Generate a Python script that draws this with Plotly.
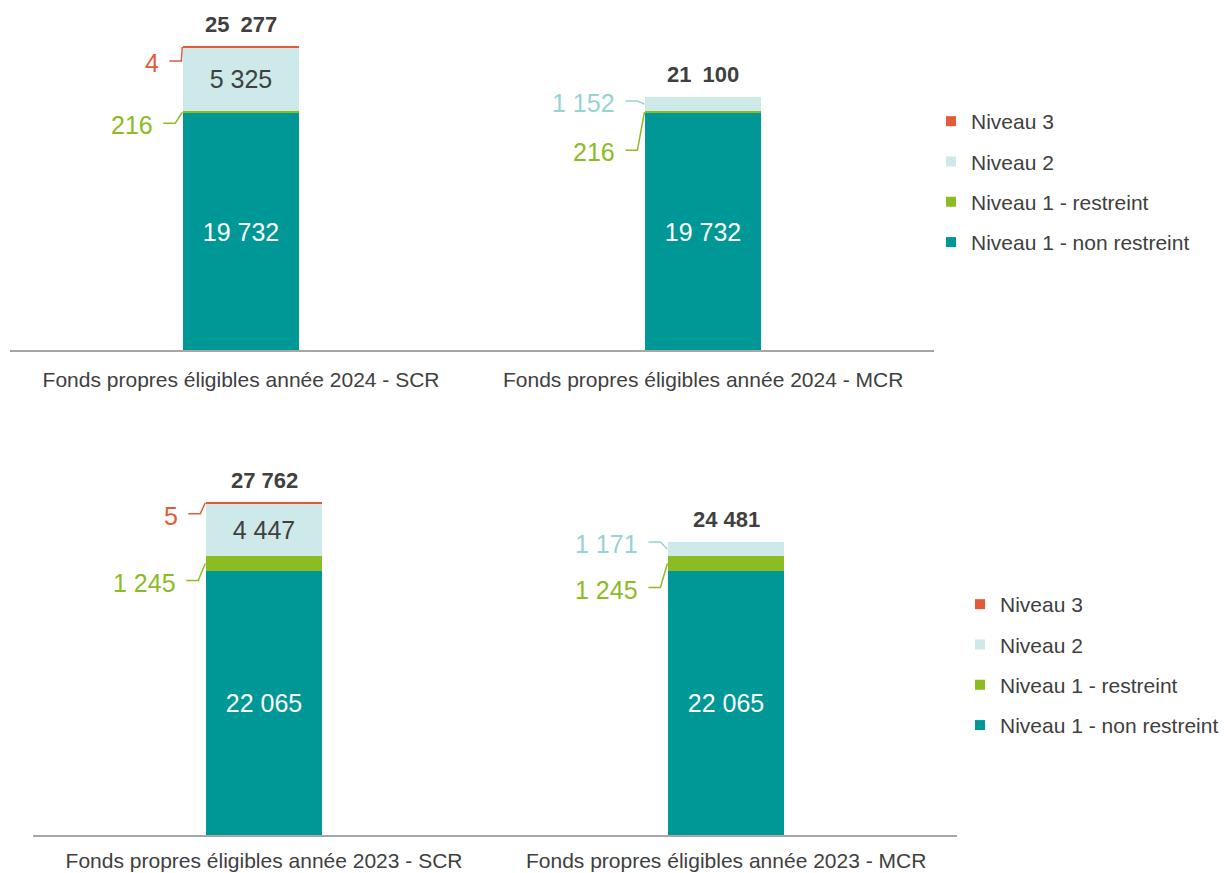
import plotly.graph_objects as go

# categories
cats_2024 = ["Fonds propres éligibles année 2024 - SCR", "Fonds propres éligibles année 2024 - MCR"]
cats_2023 = ["Fonds propres éligibles année 2023 - SCR", "Fonds propres éligibles année 2023 - MCR"]

# values (stack order: bottom -> top)
n1_nr_2024 = [19732, 19732]
n1_r_2024 = [216, 216]
n2_2024 = [5325, 1152]
n3_2024 = [4, None]

n1_nr_2023 = [22065, 22065]
n1_r_2023 = [1245, 1245]
n2_2023 = [4447, 1171]
n3_2023 = [5, None]

series_names = ["Niveau 1 - non restreint", "Niveau 1 - restreint", "Niveau 2", "Niveau 3"]
colors = ["#009896", "#8BBC24", "#CDE9E9", "#E35A3B"]
label_colors = {"Niveau 1 - restreint": "#8BBC24", "Niveau 2": "#96D3D3", "Niveau 3": "#E35A3B"}

FONT = "Liberation Sans, Arial, sans-serif"
DARK = "#404040"
W, H = 1224, 873
BAR_W = 0.25

# panel geometry (pixels)
panels = [
    dict(cats=cats_2024, data=[n1_nr_2024, n1_r_2024, n2_2024, n3_2024], xa="x", ya="y",
         px0=10, px1=935, base=350, top=0, ymax=29200, legend="legend", sep="\u2002"),
    dict(cats=cats_2023, data=[n1_nr_2023, n1_r_2023, n2_2023, n3_2023], xa="x2", ya="y2",
         px0=33, px1=958, base=835, top=415, ymax=35100, legend="legend2", sep=" "),
]

# outside callouts: (panel, category, series index, anchor, leader offset in px downward, x gap)
callouts = [
    (0, 0, 3, "top", 14, 22), (0, 0, 1, "mid", 11, 28),
    (0, 1, 2, "mid", -3, 28), (0, 1, 1, "mid", 38, 28),
    (1, 0, 3, "top", 11, 26), (1, 0, 1, "mid", 17, 28),
    (1, 1, 2, "mid", -7, 28), (1, 1, 1, "mid", 24, 28),
]


def fmt(v, sep=" "):
    return f"{v:,}".replace(",", sep)


fig = go.Figure()
annotations = []
shapes = []

for p in panels:
    for k, (name, vals) in enumerate(zip(series_names, p["data"])):
        if k == 0:
            txt = [fmt(v) for v in vals]
            tcol = "white"
        elif k == 2:
            txt = [fmt(vals[0]), ""]
            tcol = DARK
        else:
            txt = ["", ""]
            tcol = DARK
        fig.add_trace(go.Bar(
            x=p["cats"], y=vals, name=name, width=BAR_W,
            marker=dict(color=colors[k], line=dict(width=2 if k == 3 else 0, color=colors[k])),
            text=txt, textposition="inside", insidetextanchor="middle",
            textfont=dict(family=FONT, size=25, color=tcol),
            xaxis=p["xa"], yaxis=p["ya"], showlegend=False, hoverinfo="skip",
        ))
    # legend entries, top of the stack first
    for k in reversed(range(len(series_names))):
        name = series_names[k]
        fig.add_trace(go.Scatter(
            x=[None], y=[None], mode="markers", name=name,
            marker=dict(symbol="square", size=10, color=colors[k]),
            legend=p["legend"], legendgroup=p["legend"] + name,
            xaxis=p["xa"], yaxis=p["ya"],
        ))
    # totals
    for i, c in enumerate(p["cats"]):
        tot = sum(s[i] or 0 for s in p["data"])
        annotations.append(dict(
            x=c, y=tot, xref=p["xa"], yref=p["ya"], text=f"<b>{fmt(tot, p['sep'])}</b>",
            showarrow=False, yanchor="bottom", yshift=8,
            font=dict(family=FONT, size=22, color=DARK),
        ))

# callouts with elbow leader lines
for pi, ci, si, anchor, dy, gap in callouts:
    p = panels[pi]
    upp_y = p["ymax"] / (p["base"] - p["top"])      # data units per px
    upp_x = 2.0 / (p["px1"] - p["px0"])             # category units per px
    lo = sum(s[ci] or 0 for s in p["data"][:si])
    hi = lo + p["data"][si][ci]
    ya = hi if anchor == "top" else (lo + hi) / 2
    yl = ya - dy * upp_y
    edge = ci - BAR_W / 2
    col = label_colors[series_names[si]]
    shapes.append(dict(
        type="path", xref=p["xa"], yref=p["ya"],
        path=f"M{edge - (gap - 8) * upp_x},{yl} L{edge - (gap - 20) * upp_x},{yl} L{edge - 1 * upp_x},{ya}",
        line=dict(color=col, width=1.5),
    ))
    annotations.append(dict(
        x=edge - gap * upp_x, y=yl, xref=p["xa"], yref=p["ya"],
        text=fmt(p["data"][si][ci]), showarrow=False, xanchor="right", yanchor="middle",
        yshift=-2, font=dict(family=FONT, size=25, color=col),
    ))

axis_common = dict(showgrid=False, zeroline=False, fixedrange=True)
legend_common = dict(xanchor="left", yanchor="top", traceorder="grouped", tracegroupgap=10,
                     font=dict(size=21, color=DARK), bgcolor="rgba(0,0,0,0)")
fig.update_layout(
    width=W, height=H, margin=dict(l=0, r=0, t=0, b=0),
    paper_bgcolor="white", plot_bgcolor="white",
    barmode="stack", bargap=0,
    font=dict(family=FONT, color=DARK),
    xaxis=dict(domain=[panels[0]["px0"] / W, panels[0]["px1"] / W], anchor="y",
               range=[-0.5, 1.5], showline=True, linecolor="#A6A6A6", linewidth=1.5,
               ticks="outside", ticklen=10, tickcolor="rgba(0,0,0,0)",
               tickfont=dict(size=21, color=DARK), **axis_common),
    yaxis=dict(domain=[1 - panels[0]["base"] / H, 1 - panels[0]["top"] / H], anchor="x",
               range=[0, panels[0]["ymax"]], visible=False, **axis_common),
    xaxis2=dict(domain=[panels[1]["px0"] / W, panels[1]["px1"] / W], anchor="y2",
                range=[-0.5, 1.5], showline=True, linecolor="#A6A6A6", linewidth=1.5,
                ticks="outside", ticklen=6, tickcolor="rgba(0,0,0,0)",
                tickfont=dict(size=21, color=DARK), **axis_common),
    yaxis2=dict(domain=[1 - panels[1]["base"] / H, 1 - panels[1]["top"] / H], anchor="x2",
                range=[0, panels[1]["ymax"]], visible=False, **axis_common),
    legend=dict(x=931 / W, y=1 - 101 / H, **legend_common),
    legend2=dict(x=961 / W, y=1 - 584 / H, **legend_common),
    annotations=annotations, shapes=shapes,
)

fig.write_html("out.html", config={"displayModeBar": False},
               post_script="document.body.style.margin='0';document.body.style.overflow='hidden';")
